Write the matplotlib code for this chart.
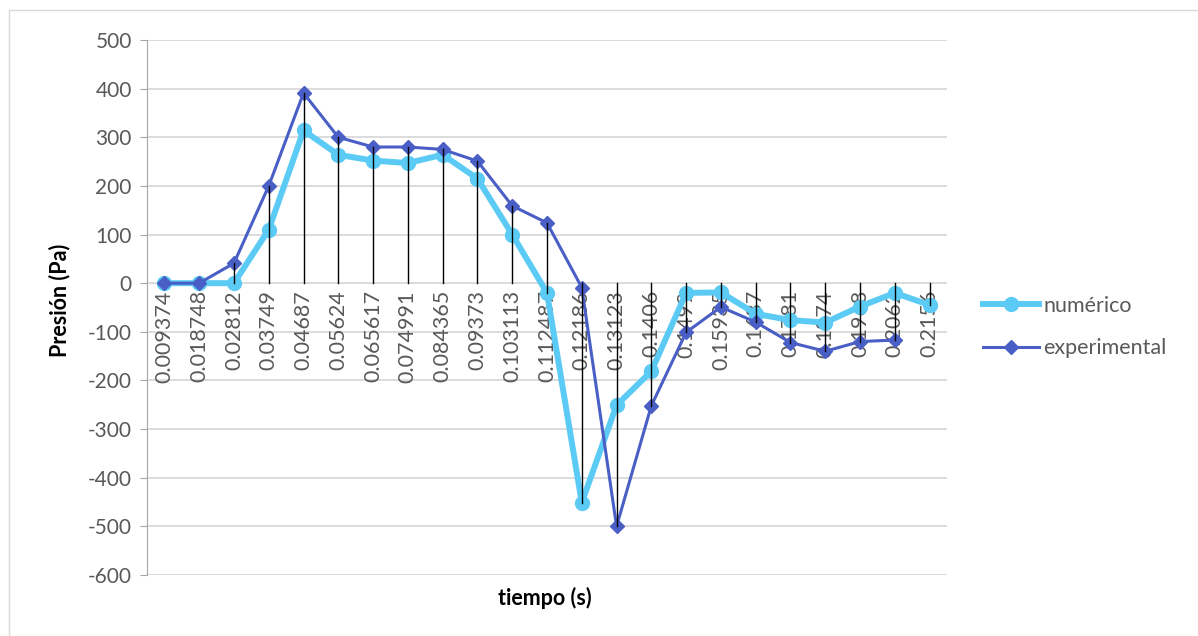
import numpy as np
import matplotlib.pyplot as plt
from matplotlib.lines import Line2D

plt.rcParams['font.family'] = ['Lato', 'DejaVu Sans']
plt.rcParams['axes.unicode_minus'] = False

# Data
tiempo = ['0.009374', '0.018748', '0.02812', '0.03749', '0.04687', '0.05624',
          '0.065617', '0.074991', '0.084365', '0.09373', '0.103113', '0.112487',
          '0.12186', '0.13123', '0.1406', '0.1499', '0.15935', '0.1687',
          '0.1781', '0.1874', '0.1968', '0.2062', '0.2156']
numerico = [0, 0, 0, 110, 314, 264, 252, 247, 264, 215, 100, -20,
            -451, -251, -181, -20, -19, -63, -76, -81, -48, -20, -45]
experimental = [0, 0, 41, 200, 391, 300, 280, 280, 275, 251, 159, 124,
                -9, -500, -252, -101, -49, -80, -122, -140, -120, -117, np.nan]

W, H = 1198, 636
fig = plt.figure(figsize=(W / 100, H / 100), dpi=100)
ax = fig.add_axes([147 / W, 1 - 575 / H, (947 - 147) / W, (575 - 40) / H])

x = np.arange(len(tiempo))
num = np.array(numerico, dtype=float)
exp_ = np.array(experimental, dtype=float)

# drop lines (black) from every point to zero
for xi, a, b in zip(x, num, exp_):
    vals = [v for v in (a, b) if not np.isnan(v)]
    lo, hi = min(vals + [0]), max(vals + [0])
    ax.plot([xi, xi], [lo, hi], color='black', lw=1.0, zorder=5)

ax.plot(x, num, color='#5BCBF5', lw=4.3, marker='o', ms=10,
        label='numérico', zorder=3)
ax.plot(x, exp_, color='#4A5FC6', lw=2.2, marker='D', ms=7,
        label='experimental', zorder=4)

ax.set_xlim(-0.5, len(tiempo) - 0.5)
ax.set_ylim(-600, 500)
ax.set_yticks(np.arange(-600, 501, 100))
ax.yaxis.grid(True, color='#d9d9d9', lw=1.3)
ax.set_axisbelow(True)
for s in ['top', 'right', 'bottom']:
    ax.spines[s].set_visible(False)
ax.spines['left'].set_color('#a6a6a6')
ax.tick_params(axis='y', length=5, color='#a6a6a6', labelsize=15,
               labelcolor='#595959', pad=6)
ax.set_xticks([])

# category labels sitting just under the zero line
for xi, lab in zip(x, tiempo):
    ax.annotate(lab, (xi, 0), xytext=(0, -5), textcoords='offset points',
                rotation=90, ha='center', va='top', fontsize=15.5,
                color='#595959', zorder=2)

fig.text(545 / W, 1 - 598 / H, 'tiempo (s)', ha='center', va='center',
         fontsize=15.5, fontweight='bold')
fig.text(60 / W, 1 - 300 / H, 'Presión (Pa)', ha='center', va='center',
         rotation=90, fontsize=15.5, fontweight='bold')

fig.legend(loc='center left', bbox_to_anchor=(983 / W, 1 - 327 / H),
           frameon=False, fontsize=15.5, labelcolor='#595959',
           handlelength=2.6, handletextpad=0.2, labelspacing=1.05,
           borderpad=0, borderaxespad=0)

# chart frame
fig.add_artist(Line2D([9 / W, 9 / W], [0, 1 - 10 / H], transform=fig.transFigure,
                      color='#d9d9d9', lw=1))
fig.add_artist(Line2D([9 / W, 1], [1 - 10 / H, 1 - 10 / H], transform=fig.transFigure,
                      color='#d9d9d9', lw=1))

fig.savefig('out.png', dpi=100)
